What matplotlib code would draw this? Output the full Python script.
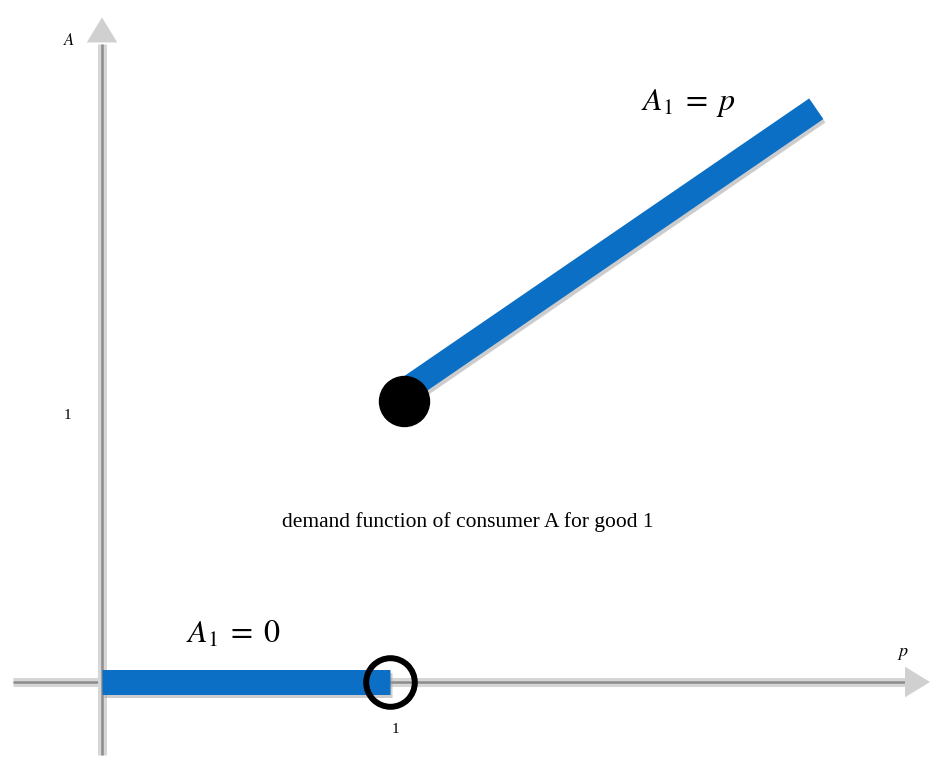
import matplotlib.pyplot as plt
import matplotlib.patheffects as pe

plt.rcParams['mathtext.fontset'] = 'stix'
plt.rcParams['font.family'] = 'Liberation Serif'

# demand of consumer A for good 1: zero below p = 1, then rising
low_p = [0, 1]
low_a = [0, 0]
high_p = [1, 2.48]
high_a = [1, 2.04]

blue = '#0a6fc5'
axis_light = '#d6d6d6'
axis_dark = '#8c8c8c'

fig = plt.figure(figsize=(9.31, 7.59), dpi=100)
ax = fig.add_axes([0, 0, 1, 1])
# pixel scale: origin at (102, 682), 288 px per unit in p, 281 px per unit in A
ax.set_xlim(-102 / 288, (931 - 102) / 288)
ax.set_ylim(-(759 - 682) / 281, 682 / 281)
ax.axis('off')

# axes with a light body and darker core
x_ax = ([-0.31, 2.79], [0, 0])
y_ax = ([0, 0], [-0.26, 2.27])
for xs, ys in (x_ax, y_ax):
    ax.plot(xs, ys, color=axis_light, lw=6.5, solid_capstyle='butt', zorder=1)
    ax.plot(xs, ys, color=axis_dark, lw=1.8, solid_capstyle='butt', zorder=1)

# arrow heads
head = dict(arrowstyle='-|>,head_length=1.8,head_width=1.1',
            color='#d0d0d0', lw=0, shrinkA=0, shrinkB=0)
ax.annotate('', xy=(2.875, 0), xytext=(2.75, 0), arrowprops=head, zorder=1)
ax.annotate('', xy=(0, 2.365), xytext=(0, 2.24), arrowprops=head, zorder=1)

shadow = [pe.SimpleLineShadow(offset=(1.5, -2.5), shadow_color='#9a9a9a', alpha=0.5),
          pe.Normal()]
ax.plot(low_p, low_a, color=blue, lw=18, solid_capstyle='butt', zorder=3,
        path_effects=shadow)
ax.plot(high_p, high_a, color=blue, lw=18, solid_capstyle='butt', zorder=3,
        path_effects=shadow)

# open circle at the jump, filled dot where the upper branch starts
ax.plot([1], [0], marker='o', ms=35, mfc='none', mec='black', mew=4.3, zorder=4)
ax.plot([1.05], [1], marker='o', ms=36, mfc='black', mec='black', zorder=4)

ax.text(0.29, 0.17, r'$A_1 \;=\; 0$', fontsize=23, ha='left', va='center')
ax.text(1.87, 2.06, r'$A_1 \;=\; p$', fontsize=23, ha='left', va='center')
ax.text(1.27, 0.57, 'demand function of consumer A for good 1',
        fontsize=15.5, ha='center', va='center')

ax.text(-0.115, 2.28, r'$A$', fontsize=12, ha='center', va='center')
ax.text(2.78, 0.10, r'$p$', fontsize=13, ha='center', va='center')
ax.text(1.02, -0.17, '1', fontsize=11, ha='center', va='center')
ax.text(-0.12, 0.95, '1', fontsize=11, ha='center', va='center')

fig.savefig('out.png', dpi=100)
